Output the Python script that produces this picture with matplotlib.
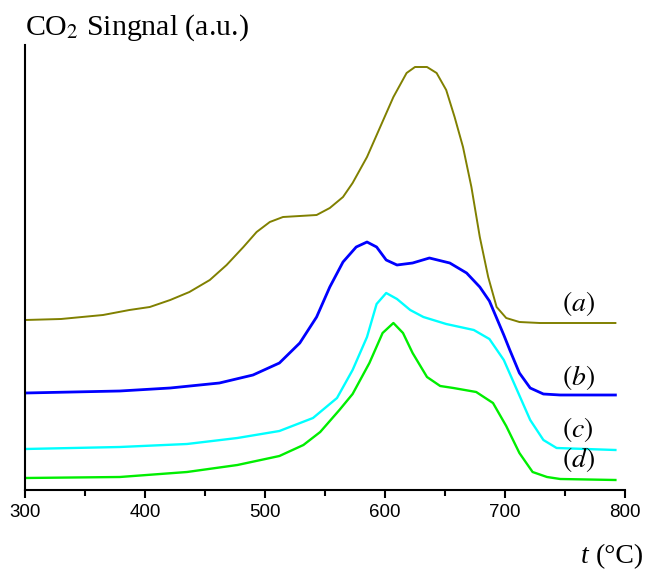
import matplotlib
matplotlib.use("Agg")
import matplotlib.pyplot as plt

plt.rcParams["mathtext.fontset"] = "stix"

# temperature (deg C) and CO2 signal (a.u.)
temp_a = [300, 330, 365, 387, 404, 421, 437, 454, 468, 482, 493, 504, 515, 529, 543,
          554, 565, 573, 585, 596, 607, 618, 625, 635, 643, 651, 658, 665, 672, 679,
          686, 693, 701, 712, 729, 792]
sig_a = [170, 171, 175, 180, 183, 190, 198, 210, 225, 243, 258, 268, 273, 274, 275,
         282, 293, 307, 333, 363, 393, 417, 423, 423, 417, 400, 373, 343, 303, 253,
         213, 183, 172, 168, 167, 167]

temp_b = [300, 379, 421, 462, 490, 512, 529, 543, 554, 565, 576, 585, 593, 601, 610,
          623, 637, 654, 668, 679, 687, 693, 699, 704, 712, 721, 732, 746, 792]
sig_b = [97, 99, 102, 107, 115, 127, 147, 173, 203, 228, 243, 248, 243, 230, 225,
         227, 232, 227, 217, 203, 189, 172, 155, 140, 117, 102, 96, 95, 95]

temp_c = [300, 379, 435, 477, 512, 540, 560, 573, 585, 593, 601, 610, 621, 632, 651,
          674, 687, 699, 710, 721, 732, 743, 792]
sig_c = [41, 43, 46, 52, 59, 72, 92, 120, 153, 186, 197, 191, 180, 173, 166,
         160, 151, 130, 100, 70, 50, 42, 40]

temp_d = [300, 379, 435, 477, 512, 532, 546, 562, 573, 587, 598, 607, 615, 623, 635,
          646, 657, 676, 690, 701, 712, 723, 735, 746, 792]
sig_d = [12, 13, 18, 25, 34, 45, 58, 80, 96, 127, 157, 167, 157, 137, 113,
         104, 102, 98, 87, 64, 37, 18, 13, 11, 10]

labels = ["$(a)$", "$(b)$", "$(c)$", "$(d)$"]
label_pos = [(761, 186), (761, 113), (761, 60), (761, 30)]

fig = plt.figure(figsize=(6.49, 5.71), dpi=100)
ax = fig.add_axes([25 / 649, 81 / 571, 600 / 649, 445 / 571])

ax.plot(temp_a, sig_a, color="#808000", lw=1.4)
ax.plot(temp_b, sig_b, color="#0000ff", lw=2.0)
ax.plot(temp_c, sig_c, color="#00ffff", lw=1.7)
ax.plot(temp_d, sig_d, color="#00ee00", lw=1.7)

for txt, (x, y) in zip(labels, label_pos):
    ax.text(x, y, txt, fontsize=20, ha="center", va="center")

ax.set_xlim(300, 800)
ax.set_ylim(0, 445)
ax.set_xticks([300, 400, 500, 600, 700, 800])
ax.set_xticks([350, 450, 550, 650, 750], minor=True)
ax.set_yticks([])
ax.tick_params(axis="x", which="major", direction="out", length=6, width=1.5,
               labelsize=13.5, pad=4)
ax.tick_params(axis="x", which="minor", direction="out", length=4, width=1.5)
for lab in ax.get_xticklabels():
    lab.set_fontfamily("Liberation Sans")

ax.spines["top"].set_visible(False)
ax.spines["right"].set_visible(False)
ax.spines["left"].set_linewidth(1.5)
ax.spines["bottom"].set_linewidth(1.5)

fig.text(25 / 649, 1 - 35 / 571, "CO$_2$ Singnal (a.u.)", fontsize=21.5,
         family="Liberation Serif", ha="left", va="baseline")

# x label: italic t followed by the unit
unit = fig.text(644 / 649, 1 - 563 / 571, "(°C)", fontsize=20,
                family=["Liberation Serif", "DejaVu Serif"],
                ha="right", va="baseline")
renderer = fig.canvas.get_renderer()
ux0 = unit.get_window_extent(renderer).x0
fig.text((ux0 - 7) / 649, 1 - 563 / 571, "t", fontsize=20, style="italic",
         family="Liberation Serif", ha="right", va="baseline")

fig.savefig("out.png", dpi=100)
